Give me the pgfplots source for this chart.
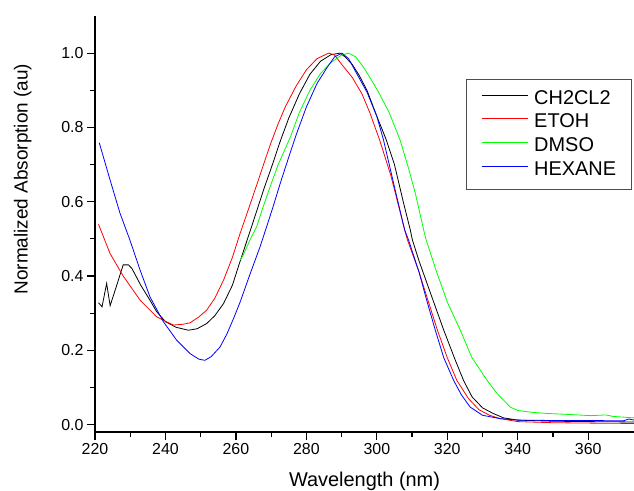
\documentclass[border=0pt]{standalone}
\usepackage{fontspec}
\setmainfont{Liberation Sans}
\usepackage{pgfplots}
\pgfplotsset{compat=1.18}

\begin{document}
\begin{tikzpicture}
\begin{axis}[
  scale only axis, width=539bp, height=416bp,
  xmin=220, xmax=373, ymin=-0.02, ymax=1.1,
  axis x line*=bottom, axis y line*=left,
  axis line style={line width=1.5pt},
  xtick={220,240,...,360}, minor x tick num=1,
  ytick={0,0.2,...,1.0}, minor y tick num=1,
  tick align=outside, major tick length=8bp, minor tick length=5bp,
  every tick/.style={line width=1.2pt, black},
  tick label style={font=\fontsize{16}{19}\selectfont},
  /pgf/number format/assume math mode=true,
  yticklabel style={/pgf/number format/.cd, fixed, fixed zerofill, precision=1},
  xticklabel style={/pgf/number format/.cd, fixed, precision=0},
  xlabel={Wavelength (nm)}, ylabel={Normalized Absorption (au)},
  xlabel style={font=\fontsize{20}{24}\selectfont, at={(axis description cs:0.5,-0.131)}, anchor=base},
  ylabel style={font=\fontsize{19}{23}\selectfont, at={(axis description cs:-0.134,0.608)}, anchor=center, rotate=0},
  legend style={at={(0.688,0.849)}, anchor=north west, draw=black!70, line width=0.8pt,
    font=\fontsize{20}{23}\selectfont, inner xsep=15bp, inner ysep=10bp,
    row sep=4.7bp, column sep=6bp,
    nodes={inner sep=0bp, text height=15bp, text depth=4bp}},
  legend cell align=left,
  legend image code/.code={\draw[#1,line width=1pt] (0bp,3.5bp) -- (46bp,3.5bp);},
  every axis plot/.append style={line width=0.8pt},
]
% CH2CL2
\addplot[color=black] coordinates {
(221,0.328) (222,0.317) (223.3,0.38) (224.3,0.320) (226,0.37) (228,0.43) (229.5,0.43)
(230.5,0.42) (233,0.375) (235.6,0.335) (237.5,0.304) (240,0.277) (243,0.262) (246.5,0.254)
(249,0.258) (251.7,0.272) (254,0.293) (256.5,0.326) (259,0.375) (261.2,0.44) (264,0.52)
(266,0.578) (268,0.636) (270,0.69) (272.7,0.766) (275,0.825) (278,0.89) (281,0.943)
(284,0.978) (287,0.996) (289.5,1.0) (291,0.99) (293,0.97) (295,0.94) (297.2,0.90)
(300,0.83) (302.7,0.766) (305,0.70) (307.5,0.60) (309.5,0.524) (310.1,0.497) (312,0.44)
(315,0.36) (319,0.254) (322,0.18) (324.6,0.119) (327,0.075) (330,0.045) (333,0.03)
(336,0.018) (340,0.012) (350,0.009) (360,0.008) (373,0.007)
};
\addlegendentry{CH2CL2}
% ETOH
\addplot[color=red] coordinates {
(221,0.539) (224.3,0.46) (228,0.40) (232.8,0.335) (237.5,0.29) (242.2,0.268) (245,0.270)
(247,0.274) (249.5,0.29) (251.7,0.308) (254,0.34) (256.5,0.389) (259,0.45) (261.2,0.515)
(264,0.592) (266,0.648) (268,0.705) (270,0.76) (272,0.81) (274,0.855) (277,0.91) (280,0.955)
(283,0.985) (286.3,1.0) (288,0.995) (290,0.97) (293,0.935) (295.8,0.89) (298,0.84)
(300.8,0.766) (304,0.67) (307.9,0.524) (308.7,0.497) (312,0.41) (315,0.32) (317.2,0.254)
(320,0.18) (322.7,0.119) (324,0.10) (326,0.07) (329,0.04) (332,0.025) (335,0.016)
(340,0.008) (350,0.005) (360,0.004) (373,0.003)
};
\addlegendentry{ETOH}
% DMSO
\addplot[color=green] coordinates {
(261.2,0.443) (262,0.455) (264,0.497) (265.9,0.533) (267.5,0.58) (269.7,0.64) (272,0.70)
(275.5,0.775) (278,0.84) (281,0.90) (284,0.945) (287,0.975) (290,0.995) (292,1.0)
(294,0.99) (296,0.965) (298,0.935) (300.5,0.895) (303.5,0.84) (306.6,0.766) (309,0.69)
(311,0.62) (313.3,0.524) (314,0.497) (317,0.41) (320,0.33) (323.7,0.254) (327,0.18)
(331.3,0.119) (334,0.085) (337.9,0.047) (340,0.038) (344,0.033) (348.3,0.030) (355,0.027)
(360.6,0.024) (363,0.025) (365,0.026) (367,0.022) (373,0.018)
};
\addlegendentry{DMSO}
% HEXANE
\addplot[color=blue] coordinates {
(221.2,0.759) (224.3,0.658) (227.1,0.569) (229.9,0.497) (232.8,0.416) (235.6,0.344)
(239.4,0.277) (243.2,0.227) (247,0.191) (249.5,0.176) (251.2,0.173) (253,0.183)
(255.5,0.209) (257.5,0.245) (259.3,0.285) (261.2,0.33) (264,0.405) (266.9,0.48) (268.8,0.535)
(270.5,0.585) (272.6,0.65) (275,0.72) (277.1,0.78) (280,0.855) (283,0.918) (286,0.963)
(288,0.99) (290.1,1.0) (292,0.985) (294,0.95) (297.2,0.895) (300,0.83) (301.9,0.766)
(305,0.64) (307.9,0.524) (309,0.497) (312,0.41) (314,0.34) (316.6,0.254) (319,0.18)
(321.8,0.119) (324,0.08) (326.5,0.047) (330,0.025) (335,0.016) (340,0.012) (350,0.011)
(360,0.011) (370,0.01) (371.5,0.015) (373,0.012)
};
\addlegendentry{HEXANE}
\end{axis}
\pgfresetboundingbox
\path (current axis.south west) ++(-95bp,-59bp) rectangle ++(634bp,491bp);
\end{tikzpicture}
\end{document}
